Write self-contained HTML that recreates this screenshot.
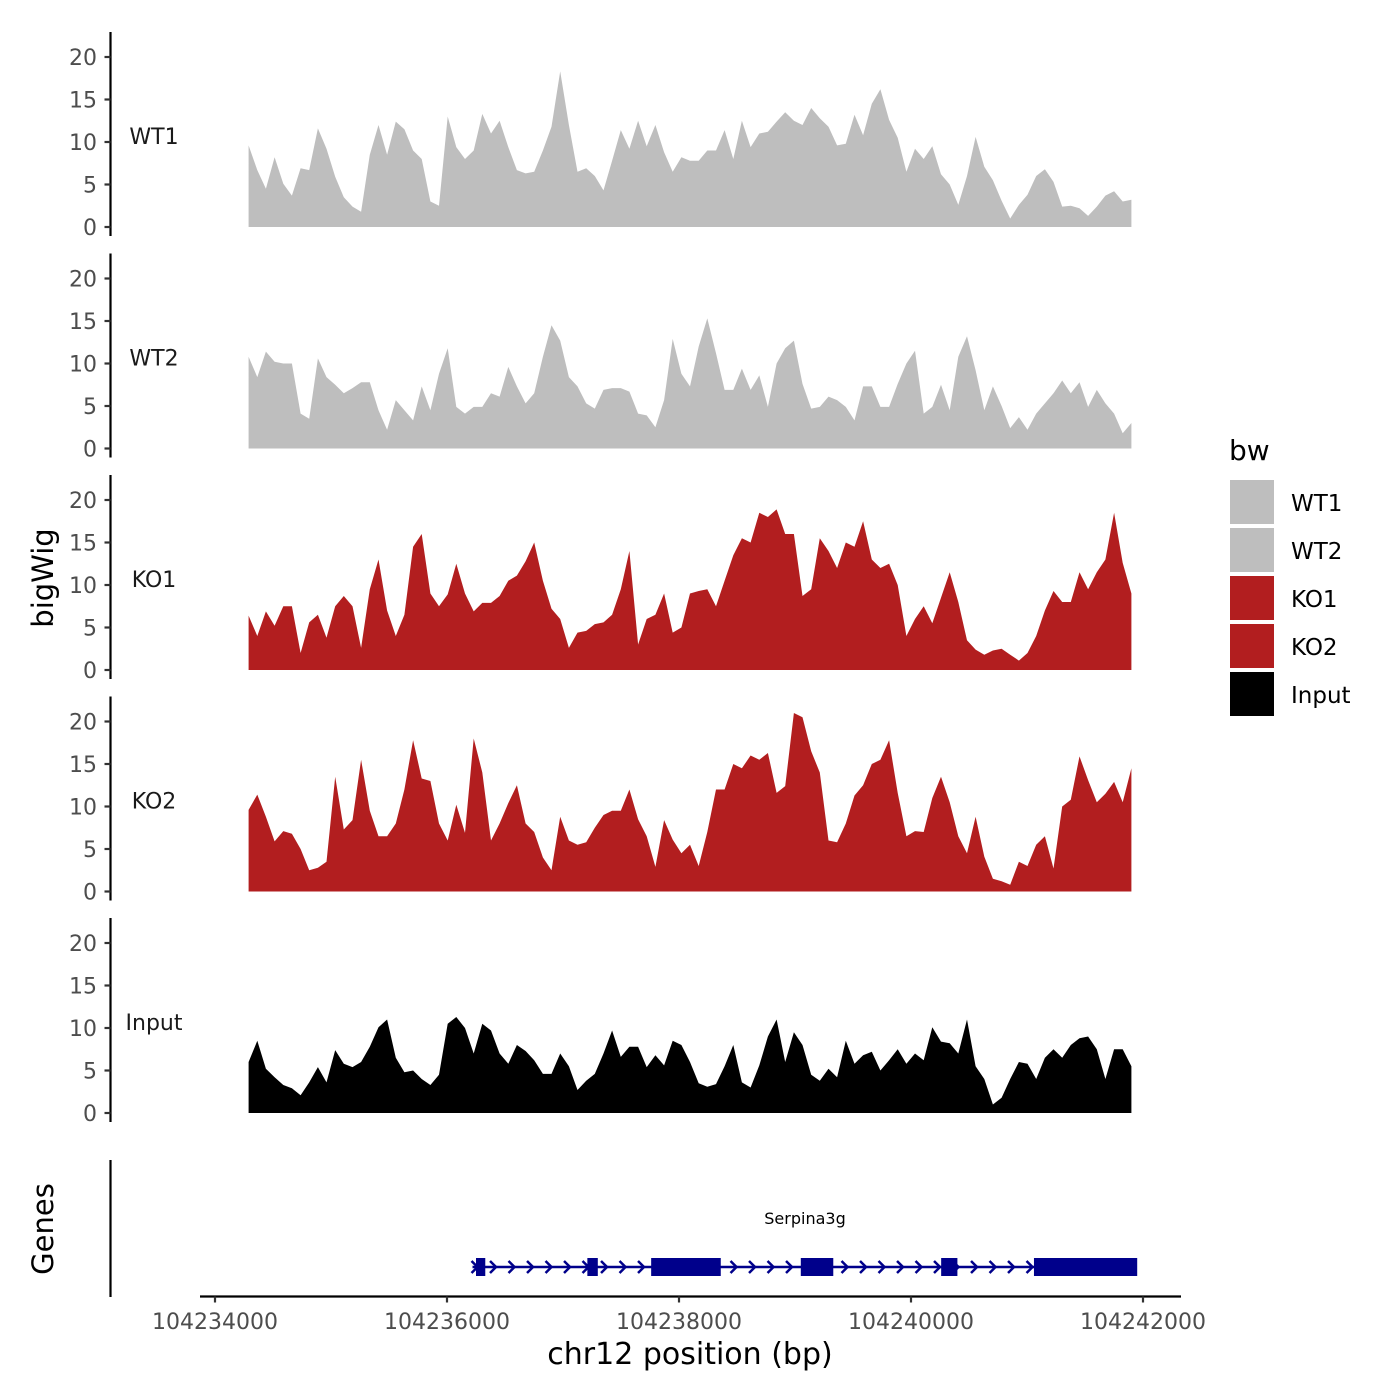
<!DOCTYPE html>
<html><head><meta charset="utf-8">
<style>
html,body{margin:0;padding:0;background:#fff;}
svg{display:block;font-family:"DejaVu Sans","Liberation Sans",sans-serif;}
</style></head>
<body>
<svg id="chart" width="1400" height="1400" viewBox="0 0 1400 1400">
  <g id="panels"></g>
  <g id="genes"></g>
  <g id="xaxis"></g>
  <text x="53" y="578" font-size="29" text-anchor="middle" transform="rotate(-90 53 578)">bigWig</text>
  <text x="53" y="1229" font-size="29" text-anchor="middle" transform="rotate(-90 53 1229)">Genes</text>
  <text x="690" y="1364" font-size="30" text-anchor="middle">chr12 position (bp)</text>
  <g id="legend">
    <text x="1229" y="460" font-size="28">bw</text>
  </g>
</svg>
<script>
const trackNames = ["WT1","WT2","KO1","KO2","Input"];
const trackColors = ["#bebebe","#bebebe","#b21e1f","#b21e1f","#000000"];
const yTicks = [0,5,10,15,20];
const xTicks = [104234000,104236000,104238000,104240000,104242000];
const dataStart = 104234290;
const dataEnd = 104241900;

const wt1 = [9.6,6.7,4.5,8.2,5.1,3.7,6.9,6.7,11.6,9.2,5.9,3.5,2.4,1.8,8.5,12.0,8.5,12.4,11.5,9.0,8.0,3.0,2.5,13.0,9.4,8.0,9.0,13.3,11.0,12.5,9.4,6.7,6.3,6.5,9.0,11.8,18.3,12.0,6.5,6.9,6.0,4.3,7.8,11.4,9.2,12.5,9.5,12.0,8.8,6.5,8.2,7.8,7.8,9.0,9.0,11.4,8.0,12.5,9.4,11.0,11.2,12.4,13.5,12.5,12.0,14.0,12.8,11.8,9.6,9.8,13.2,10.8,14.5,16.2,12.6,10.5,6.5,9.2,8.0,9.5,6.2,5.0,2.6,6.0,10.6,7.1,5.5,3.1,1.0,2.6,3.8,6.0,6.8,5.3,2.4,2.5,2.2,1.3,2.4,3.7,4.2,3.0,3.2];
const wt2 = [10.8,8.4,11.4,10.2,10.0,10.0,4.1,3.5,10.6,8.4,7.5,6.5,7.1,7.8,7.8,4.5,2.2,5.7,4.5,3.3,7.3,4.5,8.8,11.8,4.9,4.1,4.9,4.9,6.5,6.1,9.6,7.3,5.3,6.5,10.8,14.5,12.7,8.4,7.3,5.3,4.7,6.9,7.1,7.1,6.7,4.1,3.9,2.5,5.7,12.9,8.8,7.3,12.0,15.3,11.2,6.9,6.9,9.4,6.9,8.6,4.9,10.0,11.8,12.7,7.6,4.7,4.9,6.1,5.7,4.9,3.3,7.3,7.3,4.9,4.9,7.6,10.0,11.5,4.1,4.9,7.5,4.5,10.8,13.2,9.2,4.5,7.3,5.0,2.4,3.7,2.2,4.1,5.3,6.5,8.0,6.5,7.8,4.9,6.9,5.3,4.1,1.8,3.0];
const ko1 = [6.4,4.0,6.9,5.2,7.5,7.5,2.0,5.6,6.5,3.8,7.5,8.7,7.5,2.6,9.5,13.0,7.0,4.0,6.5,14.5,16.0,9.0,7.5,8.9,12.5,9.0,6.9,7.9,7.9,8.7,10.5,11.1,12.8,15.0,10.5,7.2,6.0,2.6,4.4,4.6,5.4,5.6,6.5,9.5,14.0,3.0,6.0,6.5,9.0,4.4,5.0,9.0,9.3,9.5,7.5,10.5,13.5,15.5,15.0,18.5,18.0,18.9,16.0,16.0,8.7,9.5,15.5,14.0,12.0,15.0,14.5,17.5,13.0,12.0,12.5,10.0,4.0,6.0,7.5,5.5,8.5,11.5,8.0,3.5,2.4,1.8,2.3,2.5,1.8,1.1,2.0,4.0,7.0,9.3,8.0,8.0,11.5,9.5,11.5,13.0,18.5,12.6,9.0];
const ko2 = [9.6,11.4,8.8,5.9,7.1,6.8,5.0,2.5,2.8,3.5,13.5,7.3,8.4,15.5,9.5,6.5,6.5,8.0,12.0,17.8,13.3,13.0,8.0,6.0,10.2,6.9,18.0,14.0,6.0,8.0,10.4,12.5,8.0,7.0,4.0,2.5,8.8,6.0,5.5,5.8,7.5,9.0,9.5,9.5,12.0,8.5,6.5,2.9,8.4,6.1,4.5,5.5,3.0,7.0,12.0,12.0,15.0,14.5,16.0,15.5,16.3,11.6,12.4,21.0,20.5,16.5,14.0,6.0,5.8,8.0,11.3,12.5,15.0,15.5,17.8,11.6,6.5,7.1,7.0,11.0,13.5,10.5,6.5,4.5,8.8,4.1,1.5,1.2,0.8,3.5,3.0,5.5,6.5,2.7,10.0,10.8,15.9,13.1,10.5,11.5,12.9,10.5,14.5];
const input = [6.0,8.5,5.2,4.2,3.3,2.9,2.1,3.6,5.4,3.6,7.4,5.8,5.4,6.0,7.8,10.1,11.0,6.5,4.8,5.0,4.0,3.3,4.5,10.5,11.3,10.0,7.0,10.5,9.7,7.0,5.8,8.0,7.3,6.2,4.6,4.6,7.0,5.5,2.7,3.8,4.6,7.0,9.7,6.6,7.8,7.8,5.4,6.8,5.6,8.5,8.0,6.0,3.5,3.1,3.4,5.5,8.0,3.6,3.0,5.6,9.0,11.0,6.0,9.5,8.0,4.5,3.8,5.2,4.2,8.5,5.8,6.8,7.2,5.0,6.2,7.5,5.8,7.0,6.2,10.1,8.4,8.2,7.0,11.0,5.5,4.0,1.0,1.8,4.0,6.0,5.8,4.0,6.5,7.5,6.5,8.0,8.8,9.0,7.5,4.0,7.5,7.5,5.5];
const seriesList = [wt1, wt2, ko1, ko2, input];

const geneName = "Serpina3g";
const geneStart = 104236220;
const geneEnd = 104241940;
const exonStarts = [104236250,104237210,104237760,104239050,104240260,104241060];
const exonEnds = [104236330,104237300,104238360,104239330,104240400,104241950];

const NS = "http://www.w3.org/2000/svg";
function mk(tag, attrs, parent){
  const e = document.createElementNS(NS, tag);
  for (const k in attrs) e.setAttribute(k, attrs[k]);
  parent.appendChild(e);
  return e;
}
function xScale(bp){ return 215 + (bp - 104234000) * 232 / 2000; }
const panelZero = [227, 448.5, 670, 891.5, 1113];
const pxPerUnit = 8.5;
function yScale(p, v){ return panelZero[p] - v * pxPerUnit; }

const panels = document.getElementById('panels');
seriesList.forEach((vals, p) => {
  const g = mk('g', {}, panels);
  
  
  const n = vals.length;
  const step = (dataEnd - dataStart) / (n - 1);
  let d = 'M' + xScale(dataStart).toFixed(1) + ',' + yScale(p, 0);
  vals.forEach((v, i) => {
    d += ' L' + xScale(dataStart + i * step).toFixed(1) + ',' + yScale(p, v).toFixed(1);
  });
  d += ' L' + xScale(dataEnd).toFixed(1) + ',' + yScale(p, 0) + ' Z';
  const area = mk('path', {d: d, fill: trackColors[p]}, g);
  
  
  const axTop = yScale(p, 0) - 195, axBot = yScale(p, 0) + 9;
  const ax = mk('line', {x1: 110.5, x2: 110.5, y1: axTop, y2: axBot, stroke: '#000', 'stroke-width': 2.2}, g);
  
  
  yTicks.forEach(t => {
    const y = yScale(p, t);
    const tk = mk('line', {x1: 104.5, x2: 110.5, y1: y, y2: y, stroke: '#333', 'stroke-width': 2.2}, g);
    
    
    const tl = mk('text', {x: 97, y: y + 8, 'font-size': 22, fill: '#4d4d4d', 'text-anchor': 'end'}, g);
    tl.textContent = t;
    
    
  });
  const lab = mk('text', {x: 154, y: yScale(p, 10.5) + 6, 'font-size': 22, fill: '#1a1a1a', 'text-anchor': 'middle'}, g);
  lab.textContent = trackNames[p];
  
  
});

const genes = document.getElementById('genes');
const gax = mk('line', {x1: 110.5, x2: 110.5, y1: 1160, y2: 1297, stroke: '#000', 'stroke-width': 2.2}, genes);


const navy = '#00008b';
const gy = 1267;
const gl = mk('line', {x1: xScale(geneStart), x2: xScale(geneEnd), y1: gy, y2: gy, stroke: navy, 'stroke-width': 2.5}, genes);


for (let x = xScale(geneStart) + 2; x < xScale(geneEnd) - 4; x += 18.5) {
  const a = mk('path', {d: 'M' + (x - 3) + ',' + (gy - 6) + ' L' + (x + 3) + ',' + gy + ' L' + (x - 3) + ',' + (gy + 6), fill: 'none', stroke: navy, 'stroke-width': 2.5}, genes);
  
  
}
exonStarts.forEach((s, i) => {
  const x1 = xScale(s), x2 = xScale(exonEnds[i]);
  const r = mk('rect', {x: x1, y: gy - 9, width: x2 - x1, height: 18, fill: navy}, genes);
  
  
});
const gt = mk('text', {x: 805, y: 1224, 'font-size': 16, fill: '#000', 'text-anchor': 'middle'}, genes);
gt.textContent = geneName;



const xaxis = document.getElementById('xaxis');
const xl = mk('line', {x1: 200, x2: 1181, y1: 1296.5, y2: 1296.5, stroke: '#000', 'stroke-width': 2.2}, xaxis);


xTicks.forEach(t => {
  const x = xScale(t);
  const tk = mk('line', {x1: x, x2: x, y1: 1296.5, y2: 1302.5, stroke: '#333', 'stroke-width': 2.2}, xaxis);
  
  
  const tl = mk('text', {x: x, y: 1329, 'font-size': 22, fill: '#4d4d4d', 'text-anchor': 'middle'}, xaxis);
  tl.textContent = t;
  
  
});

const legend = document.getElementById('legend');
trackNames.forEach((nm, i) => {
  const y = 480 + i * 48;
  const r = mk('rect', {x: 1230, y: y, width: 44, height: 44, fill: trackColors[i]}, legend);
  
  
  const t = mk('text', {x: 1291, y: y + 31, 'font-size': 23, fill: '#000'}, legend);
  t.textContent = nm;
  
  
});
</script>
</body></html>
